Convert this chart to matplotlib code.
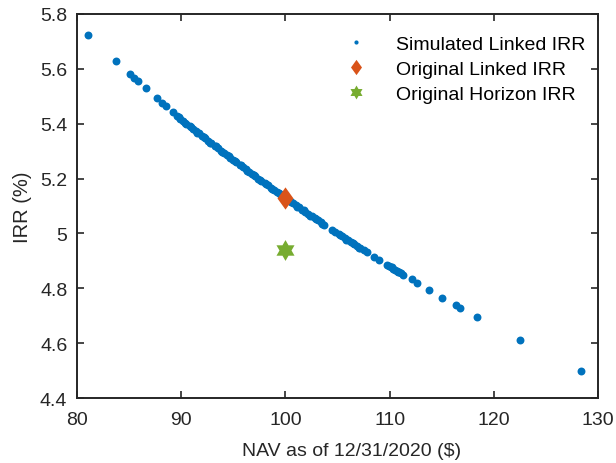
import matplotlib
matplotlib.use("Agg")
import numpy as np
import matplotlib.pyplot as plt
from matplotlib.ticker import FuncFormatter

# simulated linked IRR vs NAV
nav_sim = [81.09, 83.71, 85.09, 85.5, 85.85, 86.62, 87.64, 88.15, 88.5, 89.24,
           89.6, 89.9, 90.2, 90.5, 90.8, 91.1, 91.4, 91.7, 92.0, 92.3,
           92.6, 92.9, 93.2, 93.5, 93.8, 94.1, 94.4, 94.7, 95.0, 95.3,
           95.6, 95.9, 96.2, 96.5, 96.8, 97.1, 97.4, 97.7, 98.0, 98.3,
           98.6, 98.9, 99.2, 99.5, 99.8, 100.1, 100.4, 100.7, 101.0, 101.3,
           101.6, 101.9, 102.2, 102.5, 102.8, 103.1, 103.4, 103.7,
           104.5, 104.8, 105.1, 105.4, 105.7, 106.0, 106.3, 106.6, 106.9, 107.2,
           107.5, 107.8, 108.5, 109.0, 109.7, 109.9, 110.1, 110.3, 110.5, 110.7,
           110.9, 111.1, 111.3, 112.1, 112.6, 113.75, 115.06, 116.34, 116.79, 118.39,
           122.5, 128.4,
           89.75, 90.35, 90.95, 91.55, 92.15, 92.75, 93.35, 93.95, 94.55, 95.15,
           95.75, 96.35, 96.95, 97.55, 98.15, 98.75, 99.35, 99.95, 100.55, 101.15,
           101.75, 102.35, 102.95, 103.55, 105.25, 105.85, 106.45, 107.05, 110.2, 110.8]
irr_sim = [5.724, 5.628, 5.580, 5.568, 5.556, 5.528, 5.494, 5.476, 5.466, 5.441,
           5.427, 5.418, 5.409, 5.400, 5.391, 5.382, 5.373, 5.364, 5.355, 5.346,
           5.337, 5.328, 5.320, 5.311, 5.302, 5.293, 5.285, 5.276, 5.268, 5.259,
           5.250, 5.242, 5.233, 5.225, 5.217, 5.208, 5.200, 5.192, 5.183, 5.175,
           5.167, 5.159, 5.151, 5.142, 5.134, 5.126, 5.118, 5.110, 5.102, 5.095,
           5.087, 5.079, 5.071, 5.063, 5.055, 5.048, 5.040, 5.032,
           5.012, 5.005, 4.997, 4.990, 4.982, 4.975, 4.967, 4.960, 4.953, 4.945,
           4.938, 4.931, 4.914, 4.902, 4.886, 4.881, 4.877, 4.872, 4.867, 4.863,
           4.858, 4.854, 4.849, 4.832, 4.820, 4.794, 4.765, 4.738, 4.729, 4.696,
           4.613, 4.500,
           5.424, 5.403, 5.388, 5.367, 5.352, 5.331, 5.317, 5.296, 5.282, 5.262,
           5.248, 5.227, 5.214, 5.194, 5.181, 5.161, 5.148, 5.128, 5.116, 5.097,
           5.085, 5.065, 5.053, 5.034, 4.995, 4.977, 4.965, 4.947, 4.876, 4.859]

nav_orig = [100.0]
irr_linked = [5.129]
irr_horizon = [4.94]

x_ticks = [80, 90, 100, 110, 120, 130]
y_ticks = [4.4, 4.6, 4.8, 5.0, 5.2, 5.4, 5.6, 5.8]

plt.rcParams['font.family'] = ['Liberation Sans', 'DejaVu Sans']
dark = '#262626'

# matlab-like marker shapes
diamond = [(0, 1), (0.72, 0), (0, -1), (-0.72, 0), (0, 1)]
ang = np.pi / 2 + np.arange(12) * np.pi / 6
rad = np.where(np.arange(12) % 2 == 0, 1.0, 0.577)
hexagram = list(zip(rad * np.cos(ang), rad * np.sin(ang)))
hexagram.append(hexagram[0])

fig = plt.figure(figsize=(6.16, 4.64), dpi=100)
ax = fig.add_axes([0.125, 0.14, 0.846, 0.828])

ax.plot(nav_sim, irr_sim, 'o', color='#0072BD', ms=5.7, mec='none',
        label='Simulated Linked IRR')
ax.plot(nav_orig, irr_linked, marker=diamond, ls='none', color='#D95319',
        ms=16, mec='none', label='Original Linked IRR')
ax.plot(nav_orig, irr_horizon, marker=hexagram, ls='none', color='#77AC30',
        ms=15, mec='none', label='Original Horizon IRR')

ax.set_xlim(80, 130)
ax.set_ylim(4.4, 5.8)
ax.set_xticks(x_ticks)
ax.set_yticks(y_ticks)
ax.yaxis.set_major_formatter(FuncFormatter(lambda v, p: '%g' % round(v, 2)))
ax.tick_params(direction='in', top=True, right=True, length=5, width=1.2,
               labelsize=14, colors=dark)
ax.tick_params(axis='x', pad=9)
ax.tick_params(axis='y', pad=7)
for s in ax.spines.values():
    s.set_linewidth(1.4)
    s.set_color(dark)

ax.set_xlabel('NAV as of 12/31/2020 ($)', fontsize=14, color=dark)
ax.xaxis.set_label_coords(0.526, -0.115)
ax.set_ylabel('IRR (%)', fontsize=14.5, color=dark, labelpad=6)

leg = ax.legend(loc='upper right', frameon=False, fontsize=14,
                handletextpad=1.05, labelspacing=0.37, borderaxespad=0,
                bbox_to_anchor=(0.99, 0.964))
for h, s in zip(leg.legend_handles, [3, 11, 10]):
    h.set_markersize(s)

fig.savefig('out.png', dpi=100)
